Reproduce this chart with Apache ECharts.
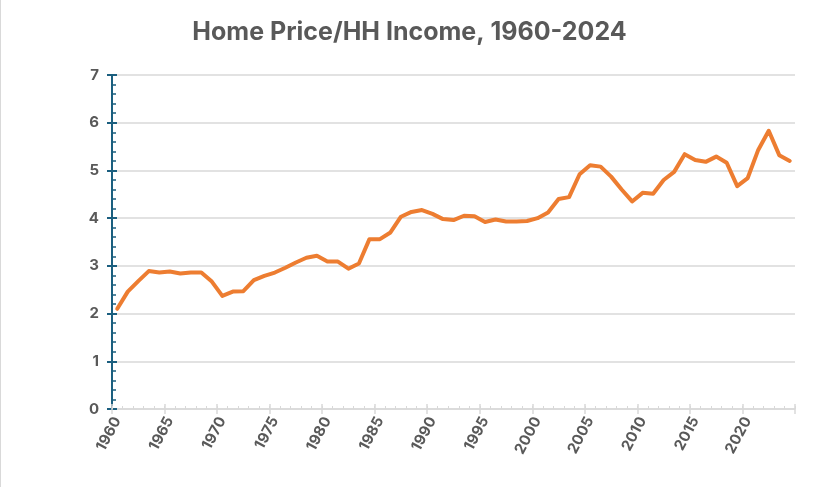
<!DOCTYPE html>
<html>
<head>
<meta charset="utf-8">
<script src="https://cdn.jsdelivr.net/npm/echarts@6/dist/echarts.min.js"></script>
<style>
html,body{margin:0;padding:0;background:#fff;}
#chart{width:819px;height:487px;}
</style>
</head>
<body>
<div id="chart"></div>
<script>
var years = [];
for (var y = 1960; y <= 2024; y++) years.push(String(y));

var ratio = [
  2.10, 2.46, 2.68, 2.89, 2.86, 2.88, 2.84, 2.86, 2.86, 2.67,
  2.37, 2.46, 2.47, 2.70, 2.79, 2.86, 2.96, 3.07, 3.17, 3.21,
  3.09, 3.09, 2.94, 3.05, 3.56, 3.56, 3.70, 4.03, 4.13, 4.17,
  4.09, 3.98, 3.96, 4.05, 4.04, 3.92, 3.97, 3.93, 3.93, 3.94,
  4.00, 4.12, 4.40, 4.44, 4.92, 5.11, 5.08, 4.87, 4.60, 4.35,
  4.53, 4.51, 4.80, 4.97, 5.34, 5.22, 5.18, 5.29, 5.16, 4.67,
  4.84, 5.43, 5.83, 5.32, 5.20
];

var titleText = 'Home Price/HH Income, 1960-2024';
var FONT = 'Inter, "Liberation Sans", sans-serif';
var GREY = '#595959';
var AXISBLUE = '#1b5f7f';
var GRIDGREY = '#d9d9d9';

var chart = echarts.init(document.getElementById('chart'), null, {renderer: 'canvas'});
chart.setOption({
  animation: false,
  backgroundColor: '#ffffff',
  title: {
    text: titleText,
    left: 'center',
    top: 15,
    textStyle: {fontFamily: FONT, fontSize: 25, fontWeight: 'bold', color: GREY}
  },
  graphic: [{
    type: 'line',
    shape: {x1: 0.5, y1: 0, x2: 0.5, y2: 487},
    style: {stroke: '#d9d9d9', lineWidth: 1}
  }],
  grid: {left: 112, right: 24, top: 75, bottom: 78, containLabel: false},
  xAxis: [{
    type: 'category',
    data: years,
    boundaryGap: true,
    axisLine: {show: true, lineStyle: {color: GRIDGREY, width: 1.5}},
    axisTick: {show: true, interval: 0, inside: true, length: 3, lineStyle: {color: GRIDGREY, width: 1}},
    axisLabel: {
      interval: 4, rotate: 62, margin: 9,
      fontFamily: FONT, fontSize: 15, fontWeight: 'bold', color: GREY
    },
    splitLine: {show: false}
  }, {
    type: 'category',
    data: years,
    boundaryGap: true,
    position: 'bottom',
    axisLine: {show: false},
    axisTick: {show: true, interval: 4, inside: false, length: 5, lineStyle: {color: GRIDGREY, width: 1.5}},
    axisLabel: {show: false},
    splitLine: {show: false}
  }, {
    type: 'category',
    data: years,
    boundaryGap: true,
    position: 'bottom',
    axisLine: {show: false},
    axisTick: {show: true, interval: 4, inside: true, length: 5, lineStyle: {color: GRIDGREY, width: 1.5}},
    axisLabel: {show: false},
    splitLine: {show: false}
  }],
  yAxis: [{
    type: 'value',
    min: 0, max: 7, interval: 1,
    axisLine: {show: true, lineStyle: {color: AXISBLUE, width: 2}},
    axisTick: {show: true, inside: true, length: 5, lineStyle: {color: AXISBLUE, width: 2}},
    minorTick: {show: true, splitNumber: 5, length: 4, lineStyle: {color: AXISBLUE, width: 1.5}},
    splitLine: {show: true, lineStyle: {color: GRIDGREY, width: 1.5}},
    axisLabel: {margin: 13, fontFamily: FONT, fontSize: 15, fontWeight: 'bold', color: GREY}
  }, {
    type: 'value',
    min: 0, max: 7, interval: 1,
    position: 'left',
    axisLine: {show: false},
    axisTick: {show: true, inside: false, length: 5, lineStyle: {color: AXISBLUE, width: 2}},
    splitLine: {show: false},
    axisLabel: {show: false}
  }],
  series: [{
    type: 'line',
    name: 'Home Price/HH Income',
    xAxisIndex: 0,
    yAxisIndex: 0,
    data: ratio,
    showSymbol: false,
    symbol: 'none',
    lineStyle: {color: '#ED7D31', width: 4, cap: 'round', join: 'round'},
    z: 5
  }]
});
</script>
</body>
</html>
